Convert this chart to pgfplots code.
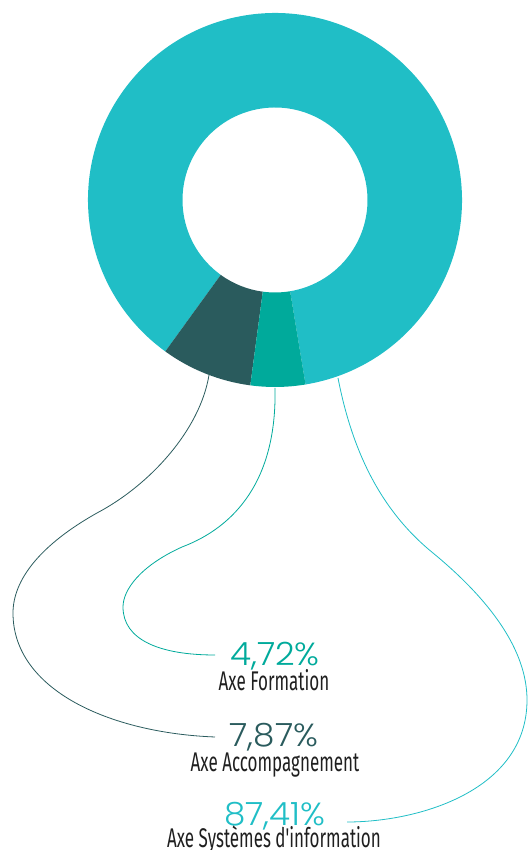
\documentclass[border=0pt]{standalone}
\usepackage{pgfplots}
\pgfplotsset{compat=1.18}
\usepackage{pgfplotstable}
\usepackage{fontspec}
\setmainfont{Fira Sans}
\newfontfamily\pctfont{Poppins Light}[FakeStretch=1.07]
\newfontfamily\lblfont{Fira Sans}[FakeStretch=0.63]

\definecolor{cSI}{HTML}{20BEC6}
\definecolor{cAcc}{HTML}{2A5B5D}
\definecolor{cForm}{HTML}{00AA9B}
\definecolor{lbl}{HTML}{1F1F1F}

% shares in %, counter-clockwise from the bottom
\pgfplotstableread{
share col
87.41 cSI
7.87 cAcc
4.72 cForm
}\shares

\begin{document}
\begin{tikzpicture}
\useasboundingbox (0,0) rectangle (528pt,850pt);
\begin{axis}[x=1pt, y=1pt, xmin=0, xmax=528, ymin=0, ymax=850,
  hide axis, clip=false, anchor=south west, at={(0,0)}]
\pgfplotsextra{
  \gdef\acc{279.4}
  \foreach \k in {0,1,2}{
    \pgfplotstablegetelem{\k}{share}\of\shares \let\s\pgfplotsretval
    \pgfplotstablegetelem{\k}{col}\of\shares \let\c\pgfplotsretval
    \pgfmathsetmacro\a{\acc}
    \pgfmathsetmacro\b{\acc+3.6*\s}
    \fill[\c] (axis cs:{275+187*cos(\a)},{650+187*sin(\a)})
      arc[start angle=\a, end angle=\b, radius=187pt]
      -- (axis cs:{275+92.5*cos(\b)},{650+92.5*sin(\b)})
      arc[start angle=\b, end angle=\a, radius=92.5pt] -- cycle;
    \xdef\acc{\b}
  }
}
% leader lines
\draw[cAcc, line width=0.8pt] (209,475) .. controls (200,420) and (150,365) .. (97,337)
  .. controls (40,305) and (13,270) .. (13,237)
  .. controls (13,160) and (110,117) .. (215,113);
\draw[cForm, line width=0.8pt] (275,462) .. controls (277,370) and (235,323) .. (182,303)
  .. controls (140,284) and (123,260) .. (123,243)
  .. controls (123,210) and (160,195) .. (215,195);
\draw[cSI, line width=0.8pt] (338,472) .. controls (352,400) and (380,340) .. (433,297)
  .. controls (490,250) and (527,200) .. (527,150)
  .. controls (527,60) and (420,28) .. (347,28);
% labels
\node[anchor=base, inner sep=0, text=cForm, font=\pctfont\fontsize{32}{32}\selectfont] at (275,184) {4,72\%};
\node[anchor=base, inner sep=0, text=lbl, font=\lblfont\fontsize{27}{27}\selectfont] at (274,159) {Axe Formation};
\node[anchor=base, inner sep=0, text=cAcc, font=\pctfont\fontsize{32}{32}\selectfont] at (274,103) {7,87\%};
\node[anchor=base, inner sep=0, text=lbl, font=\lblfont\fontsize{27}{27}\selectfont] at (275,78) {Axe Accompagnement};
\node[anchor=base, inner sep=0, text=cSI, font=\pctfont\fontsize{32}{32}\selectfont] at (275,25) {87,41\%};
\node[anchor=base, inner sep=0, text=lbl, font=\lblfont\fontsize{27}{27}\selectfont] at (274,3) {Axe Systèmes d'information};
\end{axis}
\end{tikzpicture}
\end{document}
